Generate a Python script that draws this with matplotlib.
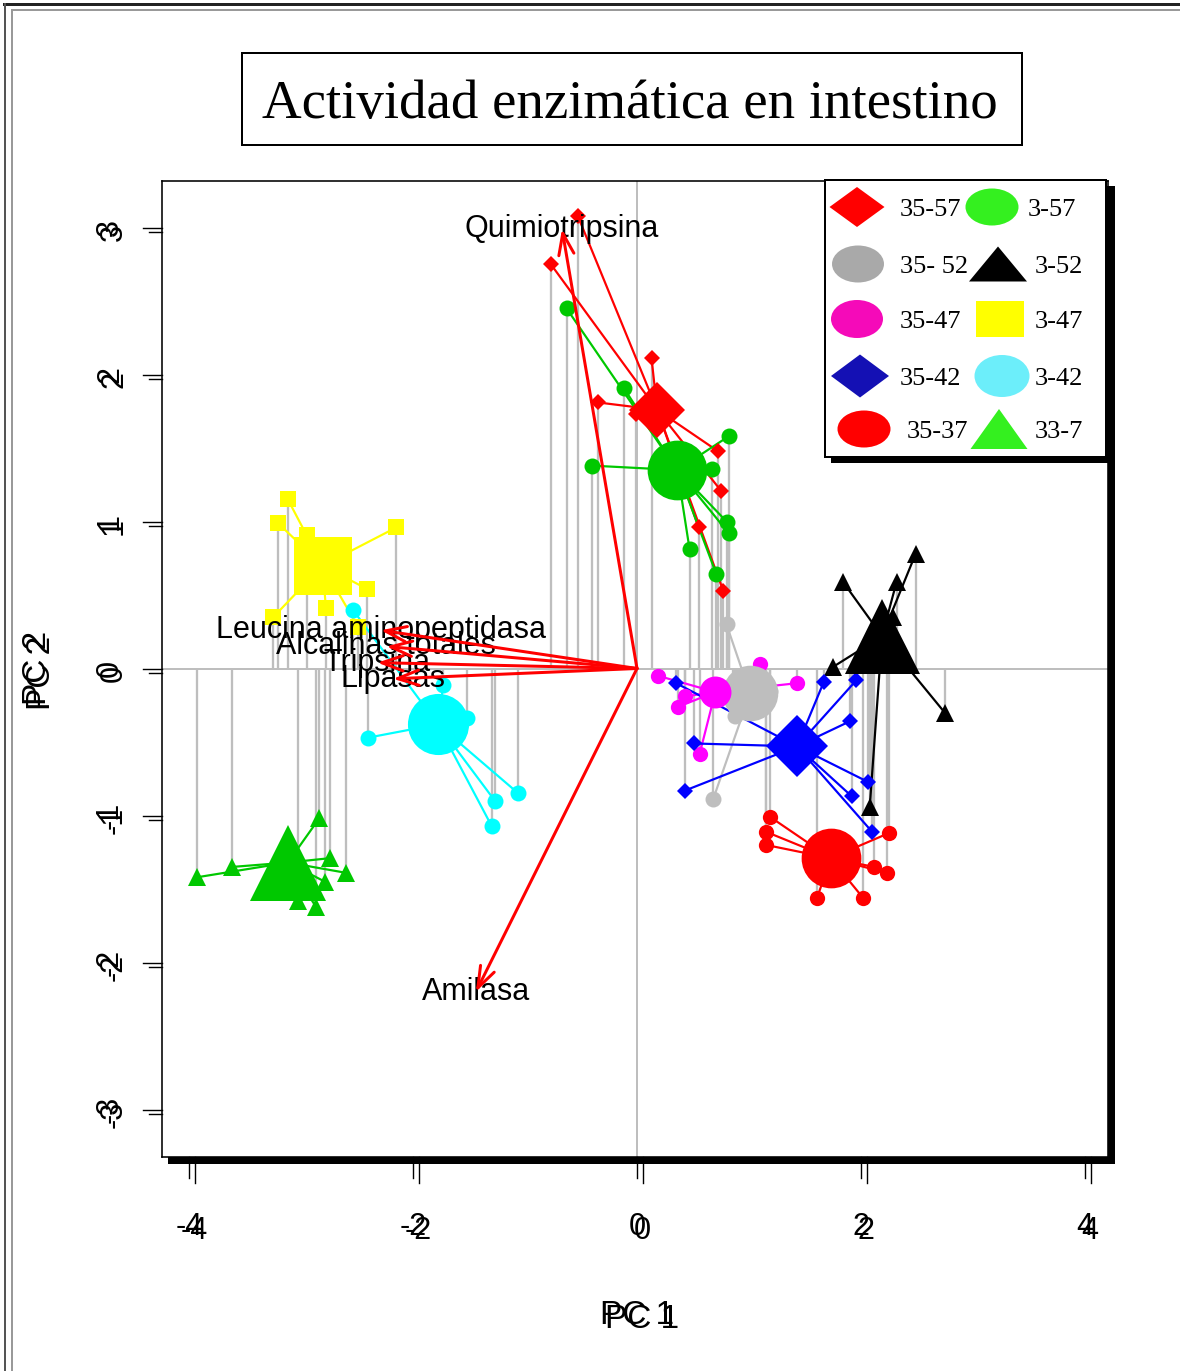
#!/usr/bin/env python3
"""PCA biplot: actividad enzimatica en intestino."""

import matplotlib
matplotlib.use("Agg")
import matplotlib.pyplot as plt
from matplotlib.patches import Rectangle, Ellipse, Polygon
from matplotlib.transforms import blended_transform_factory, ScaledTranslation

W, H, DPI = 1180, 1371, 100
PT = 72.0 / DPI  # points per pixel

SANS = ["Liberation Sans", "DejaVu Sans"]
SERIF = ["Liberation Serif", "DejaVu Serif"]

TITLE = "Actividad enzimática en intestino"
GROUPS = ["35-57", "3-57", "35- 52", "3-52", "35-47", "3-47", "35-42", "3-42", "35-37", "33-7"]

# scores per group (PC1, PC2)
X_35_57 = [-0.53, -0.77, 0.13, -0.35, 0.72, 0.75, 0.55, 0.77, -0.01]
Y_35_57 = [3.08, 2.75, 2.11, 1.81, 1.48, 1.21, 0.96, 0.53, 1.73]
X_3_57 = [-0.63, -0.12, -0.40, 0.82, 0.67, 0.80, 0.82, 0.47, 0.71]
Y_3_57 = [2.45, 1.91, 1.38, 1.58, 1.36, 1.00, 0.92, 0.81, 0.64]
X_35_52 = [0.80, 0.68, 0.97, 1.19, 0.88, 1.05]
Y_35_52 = [0.30, -0.89, -0.21, -0.15, -0.32, -0.05]
X_3_52 = [1.84, 2.49, 2.32, 1.75, 2.75, 2.08, 2.29]
Y_3_52 = [0.59, 0.78, 0.59, 0.01, -0.30, -0.94, 0.35]
X_35_47 = [0.19, 0.43, 0.37, 0.56, 1.43, 1.10, 0.86]
Y_35_47 = [-0.05, -0.19, -0.26, -0.58, -0.10, 0.03, -0.23]
X_3_47 = [-3.12, -3.21, -2.15, -2.41, -2.78, -3.25, -2.95, -2.49]
Y_3_47 = [1.15, 0.99, 0.96, 0.54, 0.41, 0.35, 0.91, 0.28]
X_35_42 = [1.67, 1.96, 1.90, 2.06, 1.92, 2.10, 0.43, 0.51, 0.35]
Y_35_42 = [-0.09, -0.08, -0.36, -0.77, -0.87, -1.11, -0.83, -0.51, -0.10]
X_3_42 = [-2.54, -2.40, -1.06, -1.27, -1.30, -1.52, -1.73]
Y_3_42 = [0.40, -0.47, -0.85, -0.90, -1.07, -0.34, -0.11]
X_35_37 = [1.19, 1.15, 1.15, 2.25, 2.12, 2.23, 1.61, 2.02]
Y_35_37 = [-1.01, -1.11, -1.20, -1.12, -1.35, -1.39, -1.56, -1.56]
X_33_7 = [-3.93, -3.62, -2.84, -2.74, -2.60, -2.79, -3.03, -2.87]
Y_33_7 = [-1.42, -1.35, -1.02, -1.29, -1.39, -1.45, -1.58, -1.62]

# group centroids
CENT_X = [0.18, 0.36, 1.01, 2.19, 0.70, -2.81, 1.43, -1.78, 1.73, -3.12]
CENT_Y = [1.76, 1.35, -0.17, 0.22, -0.16, 0.70, -0.53, -0.38, -1.29, -1.32]

# loadings (arrow tips)
VARS = ["Quimiotripsina", "Amilasa", "Leucina aminopeptidasa", "Alcalinas totales", "Tripsina", "Lipasas"]
LOAD_X = [-0.67, -1.44, -2.29, -2.24, -2.32, -2.18]
LOAD_Y = [2.99, -2.20, 0.26, 0.15, 0.04, -0.07]

XTICKS = [-4, -2, 0, 2, 4]
YTICKS = [-3, -2, -1, 0, 1, 2, 3]

# styles: colour, marker, small size (pt), centroid size (pt)
STYLES = [
    ("#FF0000", "D", 8.4, 28.5),
    ("#00C800", "o", 11.5, 43),
    ("#BEBEBE", "o", 11.5, 40),
    ("#000000", "^", 13, 54),
    ("#FF00FF", "o", 11, 23),
    ("#FFFF00", "s", 11.5, 42),
    ("#0000FF", "D", 8.4, 31.5),
    ("#00FFFF", "o", 11.5, 44),
    ("#FF0000", "o", 11, 43),
    ("#00C800", "^", 13, 55),
]
LEG_COLORS = ["#FF0000", "#34F01F", "#A9A9A9", "#000000", "#F50AB9",
              "#FFFF00", "#1410B4", "#6CEEFA", "#FF0000", "#34F01F"]
GRID_GRAY = "#BEBEBE"

# axes box in pixels
AX_L, AX_T, AX_R, AX_B = 162, 181, 1108, 1157
AX_W, AX_H = AX_R - AX_L, AX_B - AX_T

fig = plt.figure(figsize=(W / DPI, H / DPI), dpi=DPI)
fig.patch.set_facecolor("white")


def overlay(z):
    o = fig.add_axes([0, 0, 1, 1], zorder=z)
    o.set_xlim(0, W)
    o.set_ylim(H, 0)
    o.axis("off")
    o.patch.set_visible(False)
    return o


back = overlay(-1)
ax = fig.add_axes([AX_L / W, 1 - AX_B / H, AX_W / W, AX_H / H], zorder=0)
front = overlay(5)


def offset(dx, dy):
    return ScaledTranslation(dx / DPI, -dy / DPI, fig.dpi_scale_trans)


def double_text(a, x, y, s, dx, dy, transform, **kw):
    a.text(x, y, s, transform=transform, **kw)
    a.text(x, y, s, transform=transform + offset(dx, dy), **kw)


# page border, title box, axes shadow
back.plot([4, W], [4, 4], color="#222222", lw=3 * PT)
back.plot([5, 5], [4, H], color="#555555", lw=2 * PT)
back.plot([12, W], [10, 10], color="#999999", lw=2 * PT)
back.plot([12, 12], [10, H], color="#999999", lw=2 * PT)
back.add_patch(Rectangle((AX_L + 6, AX_T + 6), AX_W + 1, AX_H + 1, facecolor="black", edgecolor="none"))
back.add_patch(Rectangle((242, 53), 780, 92, facecolor="white", edgecolor="black", lw=2 * PT))
back.text(630, 118, TITLE, family=SERIF, fontsize=39.5, ha="center", va="baseline")

# main plot
ax.set_xlim((AX_L - 637) / 111.9, (AX_R - 637) / 111.9)
ax.set_ylim((668.5 - AX_B) / 147.0, (668.5 - AX_T) / 147.0)
ax.set_xticks([])
ax.set_yticks([])
for sp in ax.spines.values():
    sp.set_linewidth(1.6 * PT)
ax.axhline(0, color=GRID_GRAY, lw=2 * PT, zorder=0.5)
ax.axvline(0, color=GRID_GRAY, lw=2 * PT, zorder=0.5)

xs_all = [X_35_57, X_3_57, X_35_52, X_3_52, X_35_47, X_3_47, X_35_42, X_3_42, X_35_37, X_33_7]
ys_all = [Y_35_57, Y_3_57, Y_35_52, Y_3_52, Y_35_47, Y_3_47, Y_35_42, Y_3_42, Y_35_37, Y_33_7]

for xs, ys in zip(xs_all, ys_all):
    ax.vlines(xs, 0, ys, color=GRID_GRAY, lw=2.3 * PT, zorder=1)

for i, (xs, ys) in enumerate(zip(xs_all, ys_all)):
    color, marker, ms, big = STYLES[i]
    cx, cy = CENT_X[i], CENT_Y[i]
    for x, y in zip(xs, ys):
        ax.plot([cx, x], [cy, y], color=color, lw=2.2 * PT, zorder=2 + i * 0.01)
    ax.plot(xs, ys, linestyle="none", marker=marker, ms=ms, color=color,
            markeredgewidth=0, zorder=3 + i * 0.01)
    ax.plot([cx], [cy], linestyle="none", marker=marker, ms=big, color=color,
            markeredgewidth=0, zorder=4 + i * 0.01)

for name, lx, ly in zip(VARS, LOAD_X, LOAD_Y):
    ax.text(lx, ly, name, family=SANS, fontsize=22, ha="center", va="center", zorder=5)
    ax.annotate("", xy=(lx, ly), xytext=(0, 0), zorder=6,
                arrowprops=dict(arrowstyle="->,head_length=0.7,head_width=0.25",
                                color="#FF0000", lw=3 * PT, mutation_scale=22,
                                shrinkA=0, shrinkB=0))

# doubled ticks and tick labels
tx = blended_transform_factory(ax.transData, ax.transAxes)
ty = blended_transform_factory(ax.transAxes, ax.transData)
for v in XTICKS:
    ax.plot([v, v], [0, -21 / AX_H], transform=tx, color="black", lw=1.4 * PT, clip_on=False)
    ax.plot([v, v], [0, -26 / AX_H], transform=tx + offset(6, 0), color="black", lw=1.4 * PT, clip_on=False)
    double_text(ax, v, -(1227 - AX_B) / AX_H, str(v), 5, 4, tx,
                family=SANS, fontsize=22, ha="center", va="center")
for v in YTICKS:
    ax.plot([0, -19 / AX_W], [v, v], transform=ty, color="black", lw=1.4 * PT, clip_on=False)
    ax.plot([0, -13 / AX_W], [v, v], transform=ty + offset(0, 4), color="black", lw=1.4 * PT, clip_on=False)
    double_text(ax, -(AX_L - 110) / AX_W, v, str(v), 4, 5, ty,
                family=SANS, fontsize=22, ha="center", va="center", rotation=90)

double_text(front, 637, 1315, "PC 1", 5, 4, front.transData,
            family=SANS, fontsize=24, ha="center", va="center")
double_text(front, 38, 668, "PC 2", 4, 5, front.transData,
            family=SANS, fontsize=24, ha="center", va="center", rotation=90)

# legend
front.add_patch(Rectangle((831, 186), 284, 277, facecolor="black", edgecolor="none"))
front.add_patch(Rectangle((825, 180), 281, 277, facecolor="white", edgecolor="black", lw=2 * PT))
ROW_Y = [207, 264, 319, 376, 429]
SYM = [  # (kind, cx, w, h) per legend entry, in GROUPS order
    ("diamond", 857, 55, 40), ("ellipse", 992, 53, 37),
    ("ellipse", 858, 52, 37), ("triangle", 998, 58, 35),
    ("ellipse", 857, 52, 38), ("square", 1000, 48, 36),
    ("diamond", 860, 58, 43), ("ellipse", 1002, 55, 42),
    ("ellipse", 864, 53, 37), ("triangle", 999, 57, 40),
]
TEXT_X = [900, 1028, 900, 1035, 900, 1035, 900, 1035, 907, 1035]
for i, label in enumerate(GROUPS):
    kind, cx, w, h = SYM[i]
    cy = ROW_Y[i // 2]
    c = LEG_COLORS[i]
    if kind == "ellipse":
        p = Ellipse((cx, cy), w, h, facecolor=c, edgecolor="none")
    elif kind == "diamond":
        p = Polygon([(cx - w / 2, cy), (cx, cy - h / 2), (cx + w / 2, cy), (cx, cy + h / 2)],
                    facecolor=c, edgecolor="none")
    elif kind == "triangle":
        p = Polygon([(cx - w / 2, cy + h / 2), (cx, cy - h / 2), (cx + w / 2, cy + h / 2)],
                    facecolor=c, edgecolor="none")
    else:
        p = Rectangle((cx - w / 2, cy - h / 2), w, h, facecolor=c, edgecolor="none")
    front.add_patch(p)
    front.text(TEXT_X[i], cy + 9, label, family=SERIF, fontsize=19, ha="left", va="baseline")

fig.savefig("out.png", dpi=DPI)
